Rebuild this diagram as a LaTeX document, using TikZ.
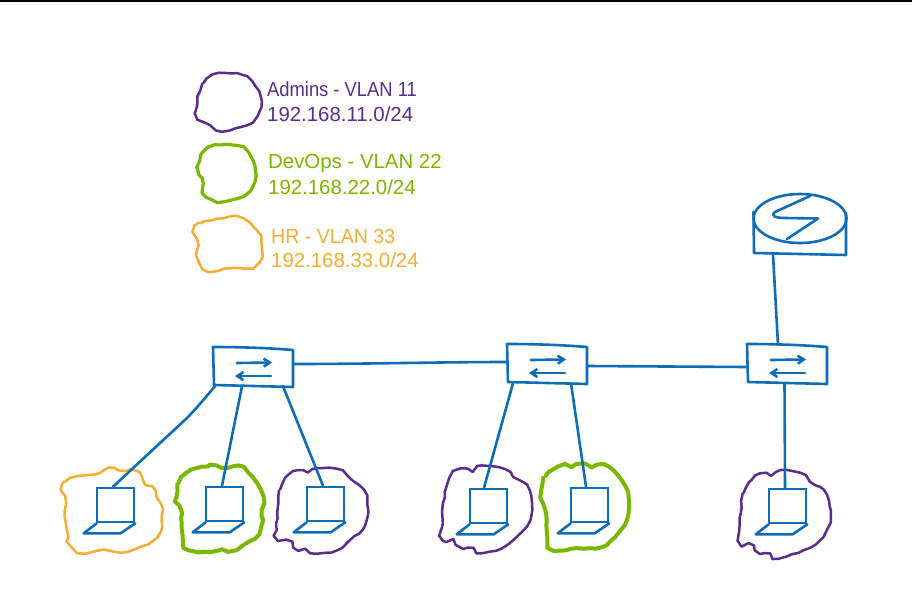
\documentclass[tikz,border=0pt]{standalone}
\usepackage{fontspec}
\setmainfont{Liberation Sans}
\usetikzlibrary{shapes.geometric,arrows.meta,decorations.pathmorphing}
\definecolor{netblue}{HTML}{0F6CB6}
\definecolor{vpurple}{HTML}{5A2D8C}
\definecolor{vgreen}{HTML}{7AB800}
\definecolor{vyellow}{HTML}{F4AE33}
\pgfmathsetseed{7}
\tikzset{
  link/.style={draw=netblue,line width=2.6pt,line cap=round,line join=round},
  switchbox/.style={minimum width=80pt,minimum height=38pt,inner sep=0pt},
  screenbox/.style={draw=netblue,line width=2.6pt,minimum width=37pt,minimum height=34pt,inner sep=0pt},
  routertop/.style={ellipse,draw=netblue,line width=2.6pt,minimum width=93pt,minimum height=49pt,inner sep=0pt},
  swarrow/.style={link,-{Straight Barb[length=6pt,width=8pt]}},
  blob/.style={smooth cycle,tension=0.6},
  wobble/.style={line join=round,decorate,decoration={random steps,segment length=6pt,amplitude=0.7pt}},
  legendtext/.style={anchor=base west,inner sep=0pt,font=\fontsize{20.4}{24}\selectfont},
  pblob/.style={draw=vpurple,line width=2.5pt,wobble},
  gblob/.style={draw=vgreen,line width=4pt,wobble},
  yblob/.style={draw=vyellow,line width=2.5pt,wobble},
}
\begin{document}
\begin{tikzpicture}[x=1pt,y=-1pt]
\useasboundingbox (0,0) rectangle (912,613);
\fill[white] (0,0) rectangle (912,613);
\fill[black] (0,0) rectangle (912,1.8);

% legend blobs
\begin{scope}[shift={(180,60)},scale=1/3]
\draw[pblob] plot[blob] coordinates {(55,110)(70,70)(100,45)(135,40)(185,45)(215,65)(240,105)(240,150)(215,185)(165,205)(125,212)(90,195)(55,175)(52,130)};
\draw[gblob,line width=3.2pt] plot[blob] coordinates {(55,320)(70,275)(105,258)(175,258)(210,285)(225,330)(220,375)(190,405)(130,425)(80,410)(70,370)(58,345)};
\draw[yblob] plot[blob] coordinates {(40,515)(60,490)(130,475)(175,470)(215,495)(240,530)(245,590)(215,620)(150,625)(85,635)(55,600)(55,555)};
\end{scope}

% legend text
\node[legendtext,text=vpurple,xscale=.9,transform shape] (t1) at (267,96) {Admins - VLAN 11};
\node[legendtext,text=vpurple] (t2) at (267,121) {192.168.11.0/24};
\node[legendtext,text=vgreen] (t3) at (268,168) {DevOps - VLAN 22};
\node[legendtext,text=vgreen] (t4) at (268,194) {192.168.22.0/24};
\node[legendtext,text=vyellow,xscale=.96,transform shape] (t5) at (271,243) {HR - VLAN 33};
\node[legendtext,text=vyellow] (t6) at (271,267) {192.168.33.0/24};

% host blobs
\begin{scope}[shift={(40,340)},scale=1/3]
\draw[yblob] plot[blob] coordinates {(65,450)(75,425)(110,410)(150,405)(165,405)(205,385)(235,390)(275,390)(295,405)(305,425)(335,440)(350,470)(365,490)(365,535)(370,560)(340,600)(290,625)(250,635)(190,630)(135,640)(115,628)(90,620)(85,590)(75,530)(78,490)(68,470)};
\draw[gblob] plot[blob] coordinates {(410,470)(415,430)(440,400)(470,385)(485,385)(510,375)(545,382)(595,378)(625,400)(650,430)(668,470)(665,510)(668,540)(655,580)(610,615)(590,630)(565,625)(510,635)(445,630)(430,600)(425,550)(425,520)(410,500)};
\draw[pblob] plot[blob] coordinates {(715,490)(720,450)(745,405)(775,392)(785,400)(830,385)(890,388)(925,412)(970,450)(982,495)(980,540)(970,565)(930,600)(890,630)(830,640)(815,630)(775,630)(755,607)(715,600)(710,570)};
\end{scope}
\begin{scope}[shift={(430,330)},scale=1/3]
\draw[pblob] plot[blob] coordinates {(40,520)(60,440)(95,420)(110,428)(155,408)(225,418)(250,440)(290,465)(305,520)(300,570)(265,615)(215,655)(155,668)(130,655)(100,655)(85,635)(40,630)(38,580)};
\draw[gblob] plot[blob] coordinates {(335,480)(345,440)(385,410)(405,415)(440,403)(465,410)(520,405)(565,440)(595,500)(590,570)(555,620)(515,650)(440,655)(370,660)(355,620)(350,570)(345,540)(335,520)};
\end{scope}
\begin{scope}[shift={(720,450)},scale=1/3]
\draw[pblob] plot[blob] coordinates {(62,190)(70,130)(95,90)(120,72)(135,82)(180,62)(240,70)(270,95)(310,120)(332,180)(325,230)(300,270)(250,300)(175,325)(150,312)(120,310)(100,288)(65,285)(58,240)};
\end{scope}

% switches
\node[switchbox] (sw1) at (253,367) {};
\node[switchbox] (sw2) at (547,364) {};
\node[switchbox] (sw3) at (787,364) {};
\foreach \n in {sw1,sw2,sw3}{
  \begin{scope}[shift={(\n.center)}]
    \draw[link] (-40,-20) .. controls (-10,-20) and (15,-19) .. (40,-17) -- (40,20) -- (-39,18) -- cycle;
    \draw[swarrow] (-16,-4) -- (19,-4.5);
    \draw[swarrow] (18,9) -- (-18,9);
  \end{scope}
}

% laptops
\node[screenbox] (l1) at (115.5,505) {};
\node[screenbox] (l2) at (224.5,504) {};
\node[screenbox] (l3) at (325.5,504) {};
\node[screenbox] (l4) at (488.5,506) {};
\node[screenbox] (l5) at (589.5,505) {};
\node[screenbox] (l6) at (787.5,506) {};
\foreach \n in {l1,l2,l3,l4,l5,l6}{
  \draw[link] ([xshift=1pt]\n.south west) -- ++(-13,10) -- ++(37,0) -- (\n.south east);
}

% router
\node[routertop] (rt) at (800,218.5) {};
\coordinate (rbl) at (753.5,212);
\coordinate (rbr) at (846,213);
\coordinate (rbase) at (773,254.5);
\draw[link] (rbl) -- (754,253) -- (846,255) -- (rbr);
\draw[link] (810,196) -- (775,212) .. controls (770,216) and (776,218) .. (785,218) -- (818,218.5) -- (787,239);

% connectors
\draw[link] ([xshift=-38pt]sw1.south) .. controls (205,398) and (195,410) .. (187,418) -- ([xshift=-2.5pt]l1.north);
\draw[link] ([xshift=-11pt]sw1.south) -- ([xshift=-2.5pt]l2.north);
\draw[link] ([xshift=30pt]sw1.south) -- ([xshift=-2.5pt]l3.north);
\draw[link] ([yshift=3pt]sw1.east) .. controls (370,364) and (440,362) .. ([yshift=2pt]sw2.west);
\draw[link] ([yshift=-2pt]sw2.east) -- ([yshift=-3pt]sw3.west);
\draw[link] ([xshift=-34pt]sw2.south) -- ([xshift=-4.5pt]l4.north);
\draw[link] ([xshift=24pt]sw2.south) -- ([xshift=-3.5pt]l5.north);
\draw[link] (rbase) -- ([xshift=-9pt]sw3.north);
\draw[link] ([xshift=-2.5pt]sw3.south) -- ([xshift=-2.5pt]l6.north);
\end{tikzpicture}
\end{document}
